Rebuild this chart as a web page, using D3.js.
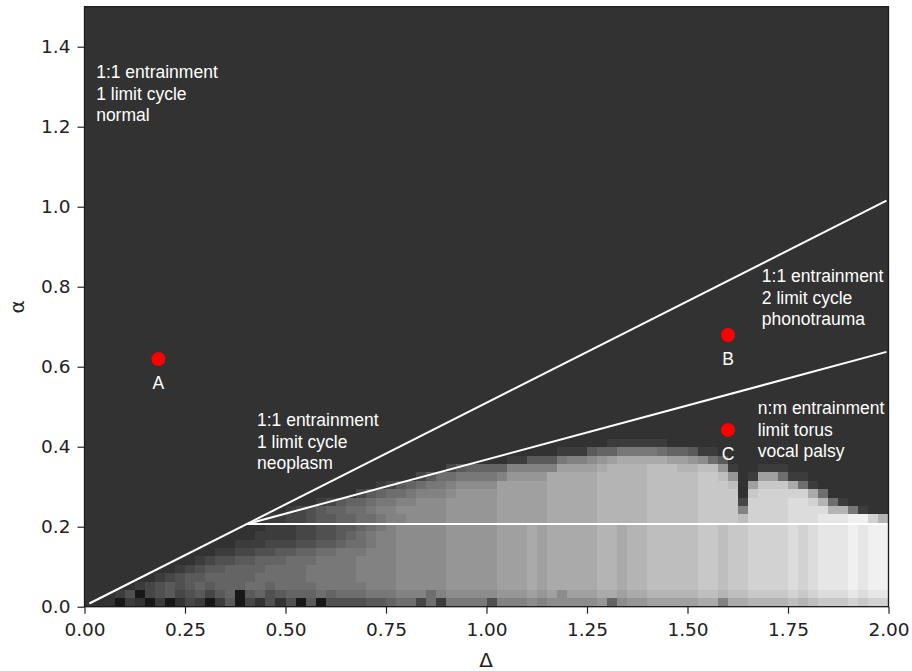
<!DOCTYPE html>
<html>
<head>
<meta charset="utf-8">
<script src="https://cdn.jsdelivr.net/npm/d3@7"></script>
<style>
  body { margin: 0; background: #fff; }
  svg { display: block; }
  .tick text { font-family: "DejaVu Sans", sans-serif; font-size: 18.5px; fill: #222; }
  .tick line { stroke: #222; stroke-width: 1.2; }
  .note { font-family: "Liberation Sans", Arial, sans-serif; font-size: 17.5px; fill: #fff; }
  .axis-label { font-family: "DejaVu Sans", sans-serif; font-size: 20px; fill: #222; }
</style>
</head>
<body>
<svg class="main-chart" width="912" height="671"></svg>
<script>
// grid of the map: one base-36 char per cell (0 = near black, 1 = background, l = near white)
var deltaStep = 0.025;
var alphaStep = 0.021;

// rows from top (alpha 0.399-0.420) down to alpha 0; above that the map is flat dark
var heatRows = [
  "1111111111 1111111111 1111111111 1111111111 1111111111 1122222211 1111111111 1111111111",
  "1111111111 1111111111 1111111111 1111111111 1111111222 5668888766 5221111111 1111111111",
  "1111111111 1111111111 1111111111 1111111111 1122555899 abcdddddcc ba75111111 1111111111",
  "1111111111 1111111111 1111111111 1111113566 6699999ccc cdeeeefffe effb211222 1111111111",
  "1111111111 1111111111 1111111111 1113577888 89bbbbdddd deeeeeffff fggfb12cc7 2211111111",
  "1111111111 1111111111 1111111112 3567889aaa acccccdddd deeeeeffff fgggf1cggg d721111111",
  "1111111111 1111111111 1111111356 778999abbb bcccccdddd deeeeeffff fgggg1ghhh hhd7111111",
  "1111111111 1111111111 1112356678 899aaabbbb bcccccdddd deeeeeffff fgggg3hhhh iihe721111",
  "1111111111 1111111111 2345667789 9aaaaabbbb bcccccdddd deeeeeffff fgggg9hhhh iiiiee8211",
  "1111111111 1111111122 3345566778 99aaaabbbb bcccccdddd deeeeeffff fggggfhhhh iiijjjkkhe",
  "1111111111 1111111122 2334455678 9aaaaabbbb bcccdcdddd deedeeffff fggfgghhhh ihijjjkjkk",
  "1111111111 1111111222 2334456789 9aaaaabbbb bcccdcdddd deedeeffff fggfgghhhh ihijjjkjkk",
  "1111111111 1111122233 3445567789 9aaaaabbbb bcccdcdddd deedeeffff fggfgghhhh ihijjjkjkk",
  "1111111111 1112233445 5667788899 9aaaaabbbb bcccdcdddd deedeeffff fggfgghhhh ihijjjkjkk",
  "1111111111 1234455666 7778888999 9aaaaabbbb bcccdcdddd deedeeffff fggfgghhhh ihijjjkjkk",
  "1111111112 3455666677 7788888999 9aaaaabbbb bcccdcdddd deedeeffff fggfgghhhh ihijjjkjkk",
  "1111111234 5566666777 7788888999 9aaaaabbbb bcccdcdddd deedeeffff fggfgghhhh ihijjjkjkk",
  "1111123454 5656667767 7778888899 9aaaaabbbb bcccdcdddd deedeeffff fggfgghhhh ihijjjkjkk",
  "1112403453 4535605645 6667677788 899979aaaa abbbcbcacc cddcddeeee effeffgggg hghiiijijj",
  "1110210201 3202503141 4050444455 6773728888 4999a9aaaa ab6abbcccc cdd9ddeeee fefggghghh"
];

var xTicks = [0, 0.25, 0.5, 0.75, 1, 1.25, 1.5, 1.75, 2];
var yTicks = [0, 0.2, 0.4, 0.6, 0.8, 1.0, 1.2, 1.4];

// region borders, [delta, alpha] end points
var borderLines = [
  [[0.012, 0.008], [1.995, 1.015]],
  [[0.405, 0.207], [1.995, 0.637]],
  [[0.405, 0.207], [1.995, 0.207]]
];

var pointNames = ["A", "B", "C"];
var pointDelta = [0.184, 1.601, 1.601];
var pointAlpha = [0.619, 0.679, 0.442];

var noteDelta = [0.029, 0.429, 1.685, 1.675];
var noteAlpha = [1.322, 0.452, 0.812, 0.482];
var noteLines = [
  ["1:1 entrainment", "1 limit cycle", "normal"],
  ["1:1 entrainment", "1 limit cycle", "neoplasm"],
  ["1:1 entrainment", "2 limit cycle", "phonotrauma"],
  ["n:m entrainment", "limit torus", "vocal palsy"]
];

var svg = d3.select("svg.main-chart");

var xScale = d3.scaleLinear().domain([0, 2]).range([84.5, 888.5]);
var yScale = d3.scaleLinear().domain([0, 1.5]).range([606.7, 6.7]);
var levelScale = d3.scaleLinear().domain([0, 1, 21]).range([24, 50, 250]);
var grayScale = function(v) {
  var g = Math.round(levelScale(v));
  return d3.rgb(g, g, g).toString();
};

// dark background of the plot area
svg.append("rect")
  .attr("x", xScale(0))
  .attr("y", yScale(1.5))
  .attr("width", xScale(2) - xScale(0))
  .attr("height", yScale(0) - yScale(1.5))
  .attr("fill", grayScale(1));

var nRows = heatRows.length;
var cells = [];
heatRows.forEach(function(row, r) {
  var k = nRows - 1 - r;
  row.replace(/ /g, "").split("").forEach(function(c, j) {
    cells.push({ k: k, j: j, v: parseInt(c, 36) });
  });
});

var cellW = xScale(deltaStep) - xScale(0);
var cellH = yScale(0) - yScale(alphaStep);

svg.append("g")
  .selectAll("rect")
  .data(cells)
  .enter()
  .append("rect")
  .attr("x", (d) => xScale(d.j * deltaStep))
  .attr("y", (d) => yScale((d.k + 1) * alphaStep))
  .attr("width", cellW + 0.4)
  .attr("height", cellH + 0.4)
  .attr("fill", (d) => grayScale(d.v))
  .attr("shape-rendering", "crispEdges");

// white borders between regions
svg.append("g")
  .selectAll("line")
  .data(borderLines)
  .enter()
  .append("line")
  .attr("x1", (d) => xScale(d[0][0]))
  .attr("y1", (d) => yScale(d[0][1]))
  .attr("x2", (d) => xScale(d[1][0]))
  .attr("y2", (d) => yScale(d[1][1]))
  .style("stroke", "#fff")
  .style("stroke-width", 2);

// points A, B, C
var points = pointNames.map(function(n, i) {
  return { name: n, delta: pointDelta[i], alpha: pointAlpha[i] };
});

svg.append("g")
  .selectAll("circle")
  .data(points)
  .enter()
  .append("circle")
  .attr("cx", (d) => xScale(d.delta))
  .attr("cy", (d) => yScale(d.alpha))
  .attr("r", 7)
  .style("fill", "#ff0000");

svg.append("g")
  .selectAll("text")
  .data(points)
  .enter()
  .append("text")
  .attr("class", "note")
  .attr("x", (d) => xScale(d.delta))
  .attr("y", (d) => yScale(d.alpha) + 30)
  .attr("text-anchor", "middle")
  .text((d) => d.name);

// region notes
var notes = noteLines.map(function(lines, i) {
  return { delta: noteDelta[i], alpha: noteAlpha[i], lines: lines };
});

svg.append("g")
  .selectAll("text")
  .data(notes)
  .enter()
  .append("text")
  .attr("class", "note")
  .attr("x", (d) => xScale(d.delta))
  .attr("y", (d) => yScale(d.alpha))
  .each(function(d) {
    var t = d3.select(this);
    d.lines.forEach(function(line, i) {
      t.append("tspan")
        .attr("x", xScale(d.delta))
        .attr("dy", i == 0 ? 0 : 21.7)
        .text(line);
    });
  });

// axes
var xAxis = d3.axisBottom(xScale)
  .tickValues(xTicks)
  .tickFormat(d3.format(".2f"))
  .tickSize(7)
  .tickPadding(9);
var yAxis = d3.axisLeft(yScale)
  .tickValues(yTicks)
  .tickFormat(d3.format(".1f"))
  .tickSize(7)
  .tickPadding(7);

svg.append("g")
  .attr("id", "xAxisG")
  .attr("transform", "translate(0," + yScale(0) + ")")
  .call(xAxis);
svg.append("g")
  .attr("id", "yAxisG")
  .attr("transform", "translate(" + xScale(0) + ",0)")
  .call(yAxis);
svg.selectAll(".domain").remove();
svg.selectAll(".tick text").attr("font-family", null).attr("font-size", null);

// frame
svg.append("rect")
  .attr("x", xScale(0))
  .attr("y", yScale(1.5))
  .attr("width", xScale(2) - xScale(0))
  .attr("height", yScale(0) - yScale(1.5))
  .style("fill", "none")
  .style("stroke", "#1a1a1a")
  .style("stroke-width", 1.3);

svg.append("text")
  .attr("class", "axis-label")
  .attr("text-anchor", "middle")
  .attr("x", 486)
  .attr("y", 667)
  .text("Δ");

svg.append("text")
  .attr("class", "axis-label")
  .attr("text-anchor", "middle")
  .attr("transform", "translate(24,307)rotate(-90)")
  .text("α");
</script>
</body>
</html>
